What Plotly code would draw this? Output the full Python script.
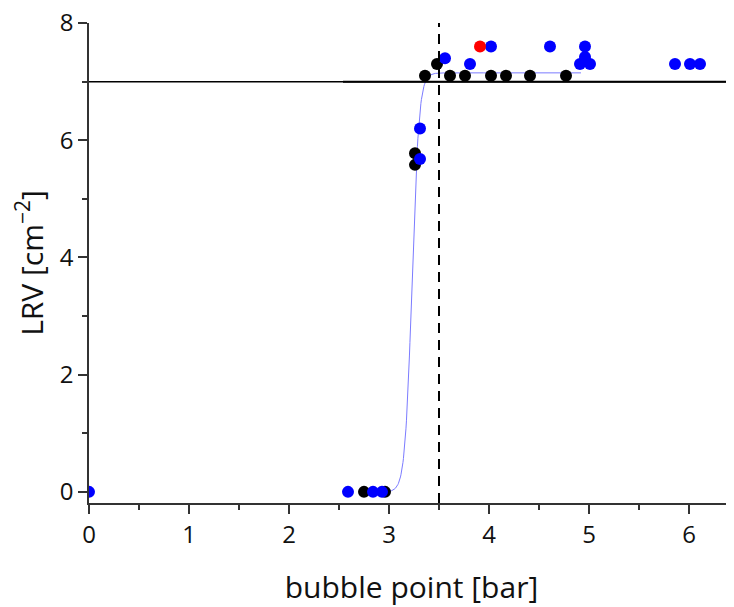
import numpy as np
import plotly.graph_objects as go

# Data
black_x = [2.75, 2.96, 3.26, 3.26, 3.36, 3.48, 3.61, 3.76, 4.02, 4.17, 4.41, 4.77]
black_y = [0.0, 0.0, 5.78, 5.58, 7.1, 7.3, 7.1, 7.1, 7.1, 7.1, 7.1, 7.1]

blue_x = [0.0, 2.59, 2.84, 2.93, 3.31, 3.31, 3.56, 3.81, 4.02, 4.61, 4.91, 4.96, 4.96, 5.01, 5.86, 6.01, 6.11]
blue_y = [0.0, 0.0, 0.0, 0.0, 6.2, 5.68, 7.4, 7.3, 7.6, 7.6, 7.3, 7.42, 7.6, 7.3, 7.3, 7.3, 7.3]

red_x = [3.91]
red_y = [7.6]

# Boltzmann fit parameters
fit_A1, fit_A2, fit_x0, fit_dx = 0.0, 7.15, 3.23, 0.035
fit_xmin, fit_xmax = 2.93, 4.92

threshold_y = 7.0
threshold_x = 3.5

x_range = [0, 6.45]
y_range = [-0.19, 8.001]

fit_x = np.linspace(fit_xmin, fit_xmax, 400)
fit_y = fit_A2 + (fit_A1 - fit_A2) / (1 + np.exp((fit_x - fit_x0) / fit_dx))

fig = go.Figure()
fig.add_trace(go.Scatter(x=fit_x, y=fit_y, mode="lines",
                         line=dict(color="#7b7bff", width=1), hoverinfo="skip"))
fig.add_trace(go.Scatter(x=black_x, y=black_y, mode="markers",
                         marker=dict(color="black", size=12)))
fig.add_trace(go.Scatter(x=blue_x, y=blue_y, mode="markers",
                         marker=dict(color="#0000ff", size=12)))
fig.add_trace(go.Scatter(x=red_x, y=red_y, mode="markers",
                         marker=dict(color="#ff0000", size=12)))

fig.add_shape(type="line", xref="x", yref="y", x0=x_range[0], x1=x_range[1],
              y0=threshold_y, y1=threshold_y, line=dict(color="black", width=1.5))
fig.add_shape(type="line", xref="x", yref="y", x0=2.54, x1=x_range[1],
              y0=threshold_y, y1=threshold_y, line=dict(color="black", width=2))
fig.add_shape(type="line", xref="x", yref="y", x0=threshold_x, x1=threshold_x,
              y0=y_range[0], y1=8, line=dict(color="black", width=2, dash="10px,7px"))

font_family = "Open Sans"
# the page adds an 8px body margin, so the figure is offset by 8px
fig.update_layout(
    width=726, height=599,
    margin=dict(l=81, r=0, t=15, b=104),
    plot_bgcolor="white", paper_bgcolor="white",
    showlegend=False,
    font=dict(family=font_family, color="#111111"),
)
fig.update_xaxes(
    range=x_range, showgrid=False, zeroline=False, automargin=False,
    ticklabeloverflow="allow",
    showline=True, linecolor="#333333", linewidth=1.5,
    ticks="outside", ticklen=9, tickwidth=1.5, tickcolor="#333333",
    dtick=1, tick0=0,
    minor=dict(ticks="outside", ticklen=5, dtick=0.5, tickwidth=1.5, tickcolor="#333333"),
    tickfont=dict(size=24),
    title=dict(text="bubble point [bar]", font=dict(size=30), standoff=28),
)
fig.update_yaxes(
    range=y_range, showgrid=False, zeroline=False, automargin=False,
    ticklabeloverflow="allow",
    showline=True, linecolor="#333333", linewidth=1.5,
    ticks="outside", ticklen=9, tickwidth=1.5, tickcolor="#333333",
    dtick=2, tick0=0,
    minor=dict(ticks="outside", ticklen=5, dtick=1, tickwidth=1.5, tickcolor="#333333"),
    tickfont=dict(size=24),
    title=dict(text="LRV [cm<sup>\u22122</sup>]", font=dict(size=30), standoff=12),
)

fig.write_html("out.html")
